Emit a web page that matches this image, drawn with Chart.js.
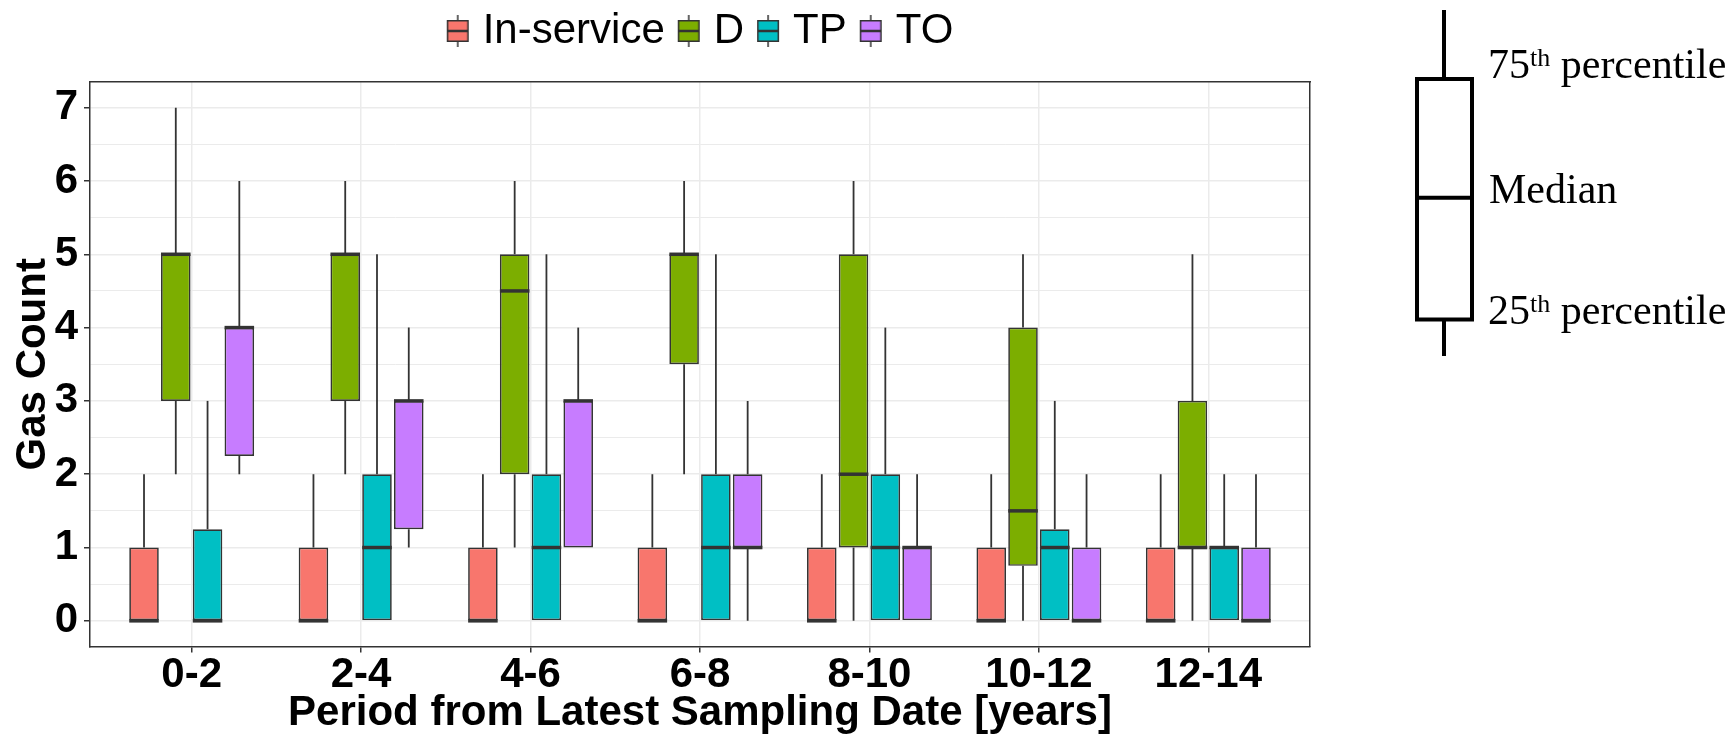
<!DOCTYPE html>
<html>
<head>
<meta charset="utf-8">
<script src="https://cdn.jsdelivr.net/npm/chart.js@4.4.1/dist/chart.umd.min.js"></script>
<style>
html,body{margin:0;padding:0;background:#fff;}
#wrap{position:relative;width:1734px;height:741px;overflow:hidden;background:#fff;}
#c{position:absolute;left:0;top:0;}
#key{position:absolute;left:0;top:0;}
</style>
</head>
<body>
<div id="wrap">
<canvas id="c" width="1734" height="741"></canvas>
<svg id="key" width="1734" height="741" xmlns="http://www.w3.org/2000/svg">
  <line x1="1444" y1="10" x2="1444" y2="79" stroke="#000" stroke-width="4"/>
  <rect x="1417" y="79" width="55" height="240.5" fill="none" stroke="#000" stroke-width="4"/>
  <line x1="1417" y1="197.7" x2="1472" y2="197.7" stroke="#000" stroke-width="4"/>
  <line x1="1444" y1="319.5" x2="1444" y2="356" stroke="#000" stroke-width="4"/>
  <text x="1488" y="78" font-family="'Liberation Serif','Times New Roman',serif" font-size="42" fill="#000">75<tspan font-size="26" dy="-12">th</tspan><tspan dy="12"> percentile</tspan></text>
  <text x="1489" y="203" font-family="'Liberation Serif','Times New Roman',serif" font-size="42" fill="#000">Median</text>
  <text x="1488" y="324" font-family="'Liberation Serif','Times New Roman',serif" font-size="42" fill="#000">25<tspan font-size="26" dy="-12">th</tspan><tspan dy="12"> percentile</tspan></text>
</svg>
</div>
<script>
// ---------------- data ----------------
const categories = ['0-2', '2-4', '4-6', '6-8', '8-10', '10-12', '12-14'];
const seriesNames = ['In-service', 'D', 'TP', 'TO'];
const seriesColors = ['#F8766D', '#7CAE00', '#00BFC4', '#C77CFF'];
const yTickLabels = [0, 1, 2, 3, 4, 5, 6, 7];

// each entry: [min, q1, median, q3, max]
const inService = [
  [0, 0, 0, 1, 2], [0, 0, 0, 1, 2], [0, 0, 0, 1, 2], [0, 0, 0, 1, 2],
  [0, 0, 0, 1, 2], [0, 0, 0, 1, 2], [0, 0, 0, 1, 2]
];
const dGroup = [
  [2, 3, 5, 5, 7], [2, 3, 5, 5, 6], [1, 2, 4.5, 5, 6], [2, 3.5, 5, 5, 6],
  [0, 1, 2, 5, 6], [0, 0.75, 1.5, 4, 5], [0, 1, 1, 3, 5]
];
const tpGroup = [
  [0, 0, 0, 1.25, 3], [0, 0, 1, 2, 5], [0, 0, 1, 2, 5], [0, 0, 1, 2, 5],
  [0, 0, 1, 2, 4], [0, 0, 1, 1.25, 3], [0, 0, 1, 1, 2]
];
const toGroup = [
  [2, 2.25, 4, 4, 6], [1, 1.25, 3, 3, 4], [1, 1, 3, 3, 4], [0, 1, 1, 2, 3],
  [0, 0, 1, 1, 2], [0, 0, 0, 1, 2], [0, 0, 0, 1, 2]
];
const series = [inService, dGroup, tpGroup, toGroup];

// ---------------- helpers ----------------
Chart.defaults.font.family = "'Liberation Sans', Arial, Helvetica, sans-serif";

function makeIcon(color) {
  const c = document.createElement('canvas');
  c.width = 24; c.height = 32;
  const g = c.getContext('2d');
  g.strokeStyle = '#333333';
  g.lineWidth = 1.5;
  g.beginPath();
  g.moveTo(12, 0); g.lineTo(12, 5);
  g.moveTo(12, 27); g.lineTo(12, 32);
  g.stroke();
  g.fillStyle = color;
  g.fillRect(1, 5, 22, 22);
  g.strokeRect(1.75, 5.75, 20.5, 20.5);
  g.lineWidth = 2.5;
  g.beginPath();
  g.moveTo(1, 16); g.lineTo(23, 16);
  g.stroke();
  return c;
}
const icons = seriesColors.map(makeIcon);

const boxParts = {
  id: 'boxParts',
  afterDatasetsDraw(chart) {
    const ctx = chart.ctx;
    const yS = chart.scales.y;
    ctx.save();
    chart.data.datasets.forEach((ds, i) => {
      const meta = chart.getDatasetMeta(i);
      meta.data.forEach((bar, j) => {
        const [mn, q1, md, q3, mx] = series[i][j];
        const x = bar.x, hw = bar.width / 2;
        ctx.strokeStyle = '#333333';
        ctx.lineWidth = 1.8;
        ctx.beginPath();
        if (mx > q3) { ctx.moveTo(x, yS.getPixelForValue(q3)); ctx.lineTo(x, yS.getPixelForValue(mx)); }
        if (mn < q1) { ctx.moveTo(x, yS.getPixelForValue(q1)); ctx.lineTo(x, yS.getPixelForValue(mn)); }
        ctx.stroke();
        ctx.lineWidth = 3.5;
        ctx.beginPath();
        const ym = yS.getPixelForValue(md);
        ctx.moveTo(x - hw, ym); ctx.lineTo(x + hw, ym);
        ctx.stroke();
      });
    });
    ctx.restore();
  }
};

const datasets = series.map((s, i) => ({
  label: seriesNames[i],
  data: s.map((v, j) => ({ x: j + 1, y: [v[1], v[3]] })),
  backgroundColor: seriesColors[i],
  borderColor: '#333333',
  borderWidth: 1.7,
  borderSkipped: false,
  categoryPercentage: 0.75,
  barPercentage: 0.93,
  xAxisID: 'x',
  yAxisID: 'y'
}));

const isInt = (c) => c && c.tick && Number.isInteger(c.tick.value);

new Chart(document.getElementById('c'), {
  type: 'bar',
  data: { datasets },
  plugins: [boxParts],
  options: {
    responsive: false,
    animation: false,
    events: [],
    layout: { padding: { top: -10, left: 0, right: 327, bottom: 0 } },
    plugins: {
      tooltip: { enabled: false },
      legend: {
        position: 'top',
        align: 'center',
        labels: {
          usePointStyle: true,
          pointStyleWidth: 8,
          padding: 20,
          color: '#000',
          font: { size: 42 },
          generateLabels: (chart) => chart.data.datasets.map((ds, i) => ({
            text: ds.label,
            pointStyle: icons[i],
            fillStyle: seriesColors[i],
            strokeStyle: '#333',
            lineWidth: 0,
            hidden: false,
            fontColor: '#000',
            datasetIndex: i
          }))
        }
      }
    },
    scales: {
      x: {
        type: 'linear', position: 'bottom', min: 0.4, max: 7.6, offset: false,
        ticks: {
          stepSize: 1, includeBounds: false, autoSkip: false, maxRotation: 0, minRotation: 0,
          padding: 1.5, color: '#000',
          font: { size: 42, weight: 'bold', lineHeight: 1 },
          callback: (v) => categories[Math.round(v) - 1] ?? ''
        },
        grid: { offset: false, color: '#EBEBEB', lineWidth: 1.5, tickColor: '#333', tickLength: 6, tickWidth: 1.5 },
        border: { display: true, color: '#333', width: 1.5 },
        title: {
          display: true, text: 'Period from Latest Sampling Date [years]', color: '#000',
          font: { size: 42, weight: 'bold', lineHeight: 1 }, padding: { top: 0, bottom: 7 }
        },
        afterFit: (s) => { s.height = 94.5; }
      },
      y: {
        type: 'linear', position: 'left', min: -0.35, max: 7.35,
        ticks: {
          stepSize: 0.5, includeBounds: false, autoSkip: false, padding: 6, color: '#000',
          font: { size: 42, weight: 'bold', lineHeight: 1 },
          callback: (v) => yTickLabels.includes(v) ? String(v) : ''
        },
        grid: {
          offset: false,
          color: '#EBEBEB',
          lineWidth: (c) => isInt(c) ? 1.5 : 1,
          tickColor: (c) => isInt(c) ? '#333' : 'rgba(0,0,0,0)',
          tickLength: 6, tickWidth: 1.5
        },
        border: { display: true, color: '#333', width: 1.5 },
        title: {
          display: true, text: 'Gas Count', color: '#000',
          font: { size: 42, weight: 'bold', lineHeight: 1 }, padding: { top: 12, bottom: 0 }
        },
        afterFit: (s) => { s.width = 90; }
      },
      xTop: {
        type: 'linear', axis: 'x', position: 'top', display: true,
        ticks: { display: false }, grid: { display: false, drawTicks: false },
        border: { display: true, color: '#333', width: 1.5 },
        afterFit: (s) => { s.height = 20; }
      },
      yRight: {
        type: 'linear', axis: 'y', position: 'right', display: true,
        ticks: { display: false }, grid: { display: false, drawTicks: false },
        border: { display: true, color: '#333', width: 1.5 },
        afterFit: (s) => { s.width = 97; }
      }
    }
  }
});
</script>
</body>
</html>
